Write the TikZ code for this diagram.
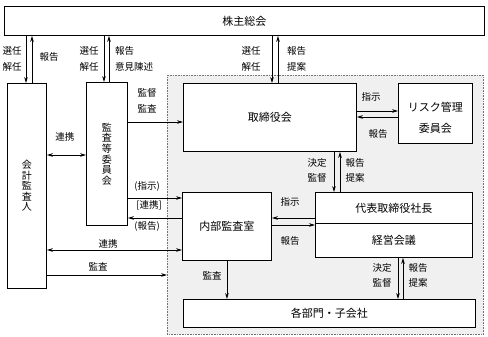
\documentclass[tikz,border=0pt]{standalone}
\usepackage{fontspec}
\newfontfamily\jp{Noto Sans CJK JP}
\usetikzlibrary{arrows.meta}
\begin{document}
\begin{tikzpicture}[x=1pt,y=-1pt,
 box/.style={draw, fill=white, line width=0.9pt, inner sep=0pt, anchor=north west, font=\jp\fontsize{11}{13}\selectfont},
 vbox/.style={box, align=center, font=\jp\fontsize{10}{10.6}\selectfont},
 lab/.style={font=\jp\fontsize{9.5}{11}\selectfont, inner sep=0pt},
 arr/.style={line width=0.8pt, -{Stealth[length=6pt,width=3.6pt]}},
 darr/.style={line width=0.8pt, {Stealth[length=6pt,width=3.6pt]}-{Stealth[length=6pt,width=3.6pt]}},
]
\useasboundingbox (0,0) rectangle (488,337);
\node[draw=black!55, densely dotted, fill=black!6, line width=0.6pt, inner sep=0pt, anchor=north west, minimum width=316pt, minimum height=259pt] (grp) at (167,75) {};

\node[box, minimum width=480pt, minimum height=29pt] (top) at (4,6) {株主総会};
\node[vbox, minimum width=39pt, minimum height=205pt] (kaikei) at (7,83) {会\\計\\監\\査\\人};
\node[vbox, minimum width=41pt, minimum height=143pt] (kansa) at (86,82) {監\\査\\等\\委\\員\\会};
\node[box, minimum width=173pt, minimum height=68pt] (tori) at (183,83) {取締役会};
\node[box, minimum width=74pt, minimum height=60pt] (risk) at (398,83) {};
\node[align=center, inner sep=0pt, font=\jp\fontsize{11}{21}\selectfont] (risktext) at ([yshift=-4pt]risk.center) {リスク管理\\委員会};
\node[box, minimum width=89pt, minimum height=68pt] (naibu) at (182,192) {内部監査室};
\node[box, minimum width=157pt, minimum height=31pt] (daihyo) at (315,192) {代表取締役社長};
\node[box, minimum width=157pt, minimum height=34pt] (keiei) at (315,223) {経営会議};
\node[box, minimum width=292pt, minimum height=28pt] (kakubu) at (183,299) {各部門・子会社};

% vertical connectors
\draw[arr] ([xshift=19pt]kaikei.north west |- top.south) -- ([xshift=19pt]kaikei.north west);
\draw[arr] ([xshift=25pt]kaikei.north west) -- ([xshift=25pt]kaikei.north west |- top.south);
\draw[arr] ([xshift=18pt]kansa.north west |- top.south) -- ([xshift=18pt]kansa.north west);
\draw[arr] ([xshift=23pt]kansa.north west) -- ([xshift=23pt]kansa.north west |- top.south);
\draw[arr] ([xshift=89pt]tori.north west |- top.south) -- ([xshift=89pt]tori.north west);
\draw[arr] ([xshift=95pt]tori.north west) -- ([xshift=95pt]tori.north west |- top.south);
\draw[arr] ([xshift=19pt]daihyo.north west |- tori.south) -- ([xshift=19pt]daihyo.north west);
\draw[arr] ([xshift=25pt]daihyo.north west) -- ([xshift=25pt]daihyo.north west |- tori.south);
\draw[arr] ([xshift=83pt]keiei.south west) -- ([xshift=83pt]keiei.south west |- kakubu.north);
\draw[arr] ([xshift=88pt]keiei.south west |- kakubu.north) -- ([xshift=88pt]keiei.south west);
\draw[arr] (naibu.south) -- (naibu.south |- kakubu.north);

% horizontal connectors
\draw[arr] ([yshift=-39pt]tori.north west -| kansa.east) -- ([yshift=-39pt]tori.north west);
\draw[darr] ([yshift=-73pt]kansa.north west -| kaikei.east) -- ([yshift=-73pt]kansa.north west);
\draw[arr] ([yshift=-28pt]risk.north west -| tori.east) -- ([yshift=-28pt]risk.north west);
\draw[arr] ([yshift=-34pt]risk.north west) -- ([yshift=-34pt]risk.north west -| tori.east);
\draw[arr] ([yshift=-6pt]naibu.north west -| kansa.east) -- ([yshift=-6pt]naibu.north west);
\draw[arr] ([yshift=-26pt]naibu.north west) -- ([yshift=-26pt]naibu.north west -| kansa.east);
\draw[arr] ([yshift=-26pt]daihyo.north west) -- ([yshift=-26pt]daihyo.north west -| naibu.east);
\draw[arr] ([yshift=-33pt]naibu.north east) -- ([yshift=-33pt]naibu.north east -| daihyo.west);
\draw[darr] ([yshift=-58pt]naibu.north west -| kaikei.east) -- ([yshift=-58pt]naibu.north west);
\draw[arr] ([yshift=-192pt]kaikei.north east) -- ([yshift=-192pt]kaikei.north east -| grp.west);

% labels
\node[lab] (a1) at (12,51) {選任};
\node[lab] (a2) at (12,67) {解任};
\node[lab] (a3) at (49,57) {報告};
\node[lab] (b1) at (89,51) {選任};
\node[lab] (b2) at (89,67) {解任};
\node[lab, anchor=west] (b3) at (115,51) {報告};
\node[lab, anchor=west] (b4) at (115,67) {意見陳述};
\node[lab] (c1) at (251,51) {選任};
\node[lab] (c2) at (251,67) {解任};
\node[lab, anchor=west] (c3) at (287,51) {報告};
\node[lab, anchor=west] (c4) at (287,67) {提案};
\node[lab] (d1) at (147,93) {監督};
\node[lab] (d2) at (147,109) {監査};
\node[lab] (e1) at (65,137) {連携};
\node[lab] (f1) at (371,97) {指示};
\node[lab] (f2) at (378,134) {報告};
\node[lab] (g1) at (317,163) {決定};
\node[lab] (g2) at (317,178) {監督};
\node[lab] (g3) at (355,163) {報告};
\node[lab] (g4) at (355,178) {提案};
\node[lab] (h1) at (147,186) {(指示)};
\node[lab] (h2) at (149,205) {[連携]};
\node[lab] (h3) at (147,226) {(報告)};
\node[lab] (i1) at (108,244) {連携};
\node[lab] (i2) at (98,267) {監査};
\node[lab] (j1) at (212,276) {監査};
\node[lab] (k1) at (290,202) {指示};
\node[lab] (k2) at (290,241) {報告};
\node[lab] (m1) at (382,268) {決定};
\node[lab] (m2) at (382,283) {監督};
\node[lab] (m3) at (418,268) {報告};
\node[lab] (m4) at (418,283) {提案};
\end{tikzpicture}
\end{document}
